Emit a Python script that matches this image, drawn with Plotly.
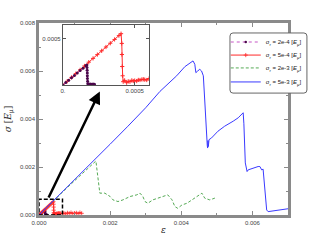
import plotly.graph_objects as go

# ---- data ----
eps_p = [0, 0.00002, 0.00004, 0.00006, 0.00008, 0.0001, 0.00012, 0.00014, 0.00016, 0.000167,
         0.000168, 0.000169, 0.00017, 0.00017, 0.000171, 0.000172, 0.000173,
         0.00018, 0.00019, 0.0002, 0.00021, 0.00022]
sig_p = [0, 0.000026, 0.000052, 0.000078, 0.000104, 0.00013, 0.000156, 0.000182, 0.000208, 0.000217,
         0.00019, 0.00016, 0.00013, 0.0001, 0.00007, 0.00004, 0.000015,
         0.000012, 0.00001, 0.000008, 0.00001, 0.000008]

eps_r = [0, 0.00003, 0.00006, 0.00009, 0.00012, 0.00015, 0.00018, 0.00021, 0.00024, 0.00027,
         0.0003, 0.00033, 0.00036, 0.00039, 0.000405, 0.00041, 0.000411, 0.000413, 0.000416,
         0.00042, 0.00043, 0.000444, 0.000455, 0.000467, 0.00048, 0.00049, 0.0005, 0.000514,
         0.000525, 0.000537, 0.00055, 0.00056, 0.00057, 0.000584, 0.0006, 0.00065, 0.0007,
         0.00075, 0.0008, 0.00085, 0.0009, 0.00095, 0.001, 0.00105, 0.0011, 0.00115, 0.0012]
sig_r = [0, 0.000041, 0.000082, 0.000123, 0.000164, 0.000206, 0.000247, 0.000288, 0.000329, 0.00037,
         0.000411, 0.000452, 0.000493, 0.000534, 0.000555, 0.00045, 0.00033, 0.0002, 0.0001,
         0.000036, 0.00005, 0.000025, 0.00004, 0.000036, 0.00005, 0.000043, 0.000048, 0.000043,
         0.000055, 0.000054, 0.00006, 0.000062, 0.000058, 0.000054, 0.00007, 0.00006, 0.00008,
         0.00005, 0.00009, 0.00007, 0.0001, 0.00006, 0.00008, 0.00009, 0.00006, 0.0001, 0.00007]

eps_g = [0, 0.0008, 0.0016, 0.00165, 0.00168, 0.00171, 0.00185, 0.002, 0.00208, 0.00222, 0.00236,
         0.00256, 0.00275, 0.00284, 0.00292, 0.00298, 0.00306, 0.0032, 0.00334, 0.00348, 0.00362,
         0.00374, 0.00382, 0.0039, 0.00402, 0.00416, 0.0043, 0.00444, 0.00458, 0.00466, 0.0048,
         0.00494, 0.005]
sig_g = [0, 0.00115, 0.00225, 0.0016, 0.0011, 0.00091, 0.00091, 0.00077, 0.00063, 0.00056, 0.00063,
         0.00077, 0.00084, 0.00091, 0.00077, 0.00056, 0.00049, 0.00063, 0.0007, 0.00077, 0.00084,
         0.00063, 0.00035, 0.00028, 0.00042, 0.00049, 0.00063, 0.00077, 0.00091, 0.0007, 0.00063,
         0.0007, 0.00066]

eps_b = [0, 0.0005, 0.001, 0.0015, 0.002, 0.0025, 0.003, 0.0034, 0.00387, 0.0041, 0.00429, 0.00433,
         0.00438, 0.00441, 0.00446, 0.00452, 0.00457, 0.00462, 0.00467, 0.0047, 0.00473, 0.00474,
         0.00475, 0.00476, 0.00478, 0.00485, 0.00503, 0.00522, 0.00546, 0.0056, 0.00574, 0.00576,
         0.0058, 0.00585, 0.00588, 0.00602, 0.00616, 0.00621, 0.00626, 0.0063, 0.0064, 0.00644,
         0.00668, 0.007]
sig_b = [0, 0.00073, 0.00147, 0.0022, 0.00295, 0.0037, 0.00447, 0.00515, 0.0058, 0.00618, 0.00635,
         0.00642, 0.00628, 0.00593, 0.006, 0.00607, 0.006, 0.0058, 0.0045, 0.0033, 0.0029, 0.00279,
         0.0031, 0.00285, 0.00314, 0.00321, 0.00349, 0.0037, 0.00391, 0.00405, 0.00426, 0.0038,
         0.00217, 0.00181, 0.00188, 0.00196, 0.00202, 0.00202, 0.00188, 0.00191, 0.00021, 0.00014,
         0.00018, 0.00026]

names = ["σ<sub>r</sub> = 2e-4 [<i>E</i><sub>μ</sub>]",
         "σ<sub>r</sub> = 5e-4 [<i>E</i><sub>μ</sub>]",
         "σ<sub>r</sub> = 2e-3 [<i>E</i><sub>μ</sub>]",
         "σ<sub>r</sub> = 5e-3 [<i>E</i><sub>μ</sub>]"]

x_ticks = [0, 0.002, 0.004, 0.006]
y_ticks = [0, 0.002, 0.004, 0.006, 0.008]
inset_x_ticks = [0, 0.0005]
inset_x_text = ["0.", "0.0005"]
inset_y_ticks = [0.0005]
inset_y_text = ["0.0005"]

PURPLE_LINE = "#c555c5"
PURPLE_MK = "#4a064a"
RED = "#ff2a2a"
GREEN = "#55aa55"
BLUE = "#3a3aff"

fig = go.Figure()

# main panel, each trace in its own legend so the rows can be spaced like the reference
fig.add_trace(go.Scatter(x=eps_p, y=sig_p, name=names[0], mode="lines+markers", legend="legend",
                         line=dict(color=PURPLE_LINE, width=1, dash="dot"),
                         marker=dict(color=PURPLE_MK, size=2.5)))
fig.add_trace(go.Scatter(x=eps_r, y=sig_r, name=names[1], mode="lines+markers", legend="legend2",
                         line=dict(color=RED, width=1),
                         marker=dict(symbol="cross-thin", size=3, line=dict(color=RED, width=0.8))))
fig.add_trace(go.Scatter(x=eps_g, y=sig_g, name=names[2], mode="lines", legend="legend3",
                         line=dict(color=GREEN, width=1, dash="3px,2px")))
fig.add_trace(go.Scatter(x=eps_b, y=sig_b, name=names[3], mode="lines", legend="legend4",
                         line=dict(color=BLUE, width=1)))

# inset
fig.add_trace(go.Scatter(x=eps_r, y=sig_r, mode="lines+markers", showlegend=False,
                         xaxis="x2", yaxis="y2",
                         line=dict(color=RED, width=1),
                         marker=dict(symbol="cross-thin", size=3, line=dict(color=RED, width=1))))
fig.add_trace(go.Scatter(x=eps_p, y=sig_p, mode="lines+markers", showlegend=False,
                         xaxis="x2", yaxis="y2",
                         line=dict(color=PURPLE_LINE, width=1, dash="dot"),
                         marker=dict(color=PURPLE_MK, size=3)))

GRAY = "#8a8a8a"
tickfont = dict(family="Liberation Sans, Arial, sans-serif", size=6, color="#444")
legfont = dict(family="Liberation Sans, Arial, sans-serif", size=6, color="#222")


def leg(yc):
    return dict(x=0.75, y=yc, xanchor="left", yanchor="middle",
                bgcolor="rgba(0,0,0,0)", borderwidth=0, font=legfont,
                itemwidth=30, tracegroupgap=0)


# legend frame (rounded rectangle) in paper coords
x0, x1, y0, y1 = 0.767, 1.076, 0.635, 0.948
rx, ry = 0.012, 0.016
frame = (f"M{x0+rx},{y0} L{x1-rx},{y0} Q{x1},{y0} {x1},{y0+ry} L{x1},{y1-ry} "
         f"Q{x1},{y1} {x1-rx},{y1} L{x0+rx},{y1} Q{x0},{y1} {x0},{y1-ry} "
         f"L{x0},{y0+ry} Q{x0},{y0} {x0+rx},{y0} Z")

fig.update_layout(
    width=320, height=240,
    margin=dict(l=39, r=32, t=23, b=25),
    paper_bgcolor="white", plot_bgcolor="white",
    showlegend=True,
    legend=leg(0.901), legend2=leg(0.833), legend3=leg(0.766), legend4=leg(0.693),
    xaxis=dict(range=[0, 0.007], tickvals=x_ticks, tickformat=".3f", automargin=False,
               showline=True, linecolor=GRAY, linewidth=2.5, mirror="ticks",
               ticks="inside", ticklen=4, tickcolor=GRAY, tickwidth=1,
               minor=dict(dtick=0.001, ticks="inside", ticklen=2.5, tickcolor=GRAY),
               showgrid=False, zeroline=False, tickfont=tickfont,
               title=dict(text="<i>ε</i>", font=dict(family="DejaVu Serif", size=9, color="#222"),
                          standoff=2)),
    yaxis=dict(range=[0, 0.008], tickvals=y_ticks, tickformat=".3f", automargin=False,
               showline=True, linecolor=GRAY, linewidth=2.5, mirror="ticks",
               ticks="inside", ticklen=4, tickcolor=GRAY, tickwidth=1,
               minor=dict(dtick=0.001, ticks="inside", ticklen=2.5, tickcolor=GRAY),
               showgrid=False, zeroline=False, tickfont=tickfont,
               title=dict(text="<i>σ</i> [<i>E</i><sub>μ</sub>]",
                          font=dict(family="DejaVu Serif", size=9, color="#222"),
                          standoff=7)),
    xaxis2=dict(domain=[0.096, 0.442], anchor="y2", range=[0, 0.0006], automargin=False,
                tickvals=inset_x_ticks, ticktext=inset_x_text,
                showline=True, linecolor="#555", linewidth=1, mirror="ticks",
                ticks="inside", ticklen=3, tickcolor="#555",
                showgrid=False, zeroline=False, tickfont=tickfont),
    yaxis2=dict(domain=[0.677, 0.99], anchor="x2", range=[0, 0.00065], automargin=False,
                tickvals=inset_y_ticks, ticktext=inset_y_text,
                showline=True, linecolor="#555", linewidth=1, mirror="ticks",
                ticks="inside", ticklen=3, tickcolor="#555",
                showgrid=False, zeroline=False, tickfont=tickfont),
    shapes=[dict(type="rect", xref="x", yref="y", x0=0, y0=0, x1=0.00066, y1=0.00066,
                 line=dict(color="black", width=1.5, dash="4px,2px")),
            dict(type="path", xref="paper", yref="paper", path=frame,
                 fillcolor="white", line=dict(color="#666", width=1), layer="above")],
    annotations=[dict(xref="x", yref="y", axref="x", ayref="y",
                      x=0.00171, y=0.00515, ax=0.00025, ay=0.00067,
                      text="", showarrow=True, arrowhead=2, arrowsize=1,
                      arrowwidth=2.5, arrowcolor="black")],
)

fig.write_html("out.html", config={"displayModeBar": False},
               post_script="document.body.style.margin='0';document.body.style.overflow='hidden';")
